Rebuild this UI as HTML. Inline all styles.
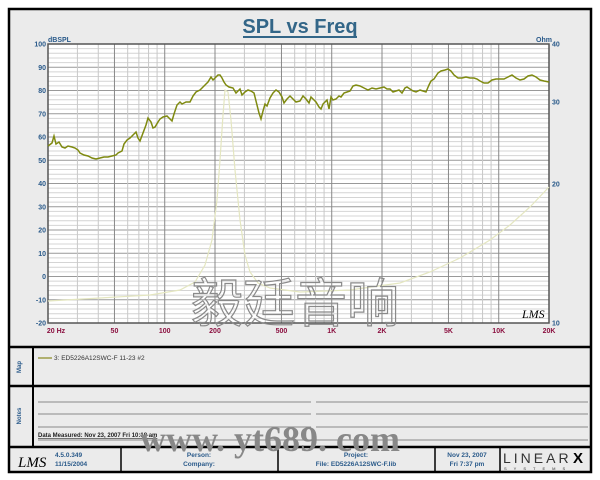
<!DOCTYPE html>
<html><head><meta charset="utf-8"><style>
body{margin:0;background:#fff;width:600px;height:480px;overflow:hidden}
svg{display:block}
text{font-family:"Liberation Sans",Arial,sans-serif}
</style></head><body>
<svg width="600" height="480" viewBox="0 0 600 480" xmlns="http://www.w3.org/2000/svg">
<rect x="0" y="0" width="600" height="480" fill="#fff"/>
<rect x="9" y="9" width="582" height="463" fill="#ebebeb" stroke="#000" stroke-width="2.5"/>
<line x1="9" y1="347" x2="591" y2="347" stroke="#000" stroke-width="2.5"/>
<line x1="9" y1="386" x2="591" y2="386" stroke="#000" stroke-width="2.5"/>
<line x1="9" y1="447" x2="591" y2="447" stroke="#000" stroke-width="2.5"/>
<line x1="33" y1="347" x2="33" y2="447" stroke="#000" stroke-width="2"/>
<line x1="121" y1="447" x2="121" y2="472" stroke="#000" stroke-width="1.5"/>
<line x1="278" y1="447" x2="278" y2="472" stroke="#000" stroke-width="1.5"/>
<line x1="435" y1="447" x2="435" y2="472" stroke="#000" stroke-width="1.5"/>
<line x1="500" y1="447" x2="500" y2="472" stroke="#000" stroke-width="1.5"/>
<text x="300" y="33" font-size="20" font-weight="bold" fill="#336688" text-anchor="middle">SPL vs Freq</text>
<line x1="243" y1="37" x2="357" y2="37" stroke="#336688" stroke-width="2"/>
<rect x="48" y="44" width="501" height="279" fill="#fff"/>
<g id="grid"></g>
<rect x="48" y="44" width="501" height="279" fill="none" stroke="#555" stroke-width="1.5"/>
<text x="48" y="42" font-size="7" font-weight="bold" fill="#2a5a8a">dBSPL</text>
<text x="552" y="42" font-size="7" font-weight="bold" fill="#2a5a8a" text-anchor="end">Ohm</text>
<g id="labels" font-size="7" font-weight="bold"></g>
<polyline fill="none" stroke="#e4e6c0" stroke-width="1.2" points="48,301 100,298 150,295 180,290 195,282 205,265 212,240 217,200 220,160 223,115 225,90 228,92 231,120 235,170 240,220 245,255 250,272 258,283 270,288 300,292 350,290 400,283 430,272 460,258 490,240 510,225 530,207 549,187"/>
<polyline fill="none" stroke="#7f8a10" stroke-width="1.5" points="48,146 52,143 54,136 56,144 59,142 62,147 65,148 68,146 72,147 75,148 78,150 80,153 84,155 88,156 92,158 96,159 100,158 104,157 108,157 112,156 116,155 118,153 122,151 124,144 127,140 130,138 134,134 136,132 138,138 140,141 143,133 146,125 148,118 151,122 153,128 155,127 158,122 160,119 163,117 167,116 170,119 172,121 174,114 177,105 180,102 182,104 186,102 190,102 193,96 196,92 200,90 205,85 208,82 211,77 213,80 215,78 218,75 220,75 222,78 224,82 226,85 229,87 233,88 236,93 238,91 240,89 242,95 245,92 248,90 251,91 254,93 257,105 259,113 261,119 263,111 265,104 267,106 270,98 273,93 276,90 279,92 282,97 284,103 287,99 290,96 292,98 296,102 300,101 303,96 306,99 309,103 311,97 313,99 316,102 319,107 321,109 323,104 325,102 327,100 329,109 331,97 333,100 336,99 339,96 341,97 344,93 347,92 350,91 353,86 356,85 360,86 364,88 368,90 372,88 376,89 380,88 384,87 387,89 390,89 393,92 396,91 399,90 402,93 405,88 407,87 410,89 413,91 416,92 420,90 423,91 426,92 429,85 431,81 434,79 436,76 438,73 441,71 445,70 448,69 451,71 454,75 458,78 462,78 466,77 470,78 474,78 477,79 480,81 484,83 488,83 492,80 496,79 500,79 504,79 508,77 512,75 516,78 520,80 524,79 528,76 532,75 536,77 540,80 544,81 549,82"/>
<text x="522" y="318" font-size="12" fill="#000" style="font-family:'Liberation Serif',serif;font-style:italic">LMS</text>
<text x="295" y="322" font-size="52" fill="none" stroke="#8a8a8a" stroke-width="1.2" text-anchor="middle" style="font-family:'Liberation Sans','Noto Sans CJK SC',sans-serif">毅廷音响</text>
<text x="21" y="367" font-size="6" font-weight="bold" fill="#2a5a8a" transform="rotate(-90 21 367)" text-anchor="middle">Map</text>
<line x1="38" y1="358" x2="52" y2="358" stroke="#b0b070" stroke-width="2"/>
<text x="54" y="360" font-size="6.5" fill="#333">3: ED5226A12SWC-F   11-23  #2</text>
<text x="21" y="416" font-size="6" font-weight="bold" fill="#2a5a8a" transform="rotate(-90 21 416)" text-anchor="middle">Notes</text>
<g stroke="#888" stroke-width="1">
<line x1="38" y1="402" x2="311" y2="402"/><line x1="316" y1="402" x2="588" y2="402"/>
<line x1="38" y1="414" x2="311" y2="414"/><line x1="316" y1="414" x2="588" y2="414"/>
<line x1="38" y1="427" x2="311" y2="427"/><line x1="316" y1="427" x2="588" y2="427"/>
<line x1="38" y1="440" x2="588" y2="440"/>
</g>
<text x="38" y="437" font-size="6" font-weight="bold" fill="#222" text-decoration="underline">Data Measured: Nov 23, 2007  Fri 10:18 am</text>
<text x="270" y="451" font-size="36" fill="#888" text-anchor="middle" style="font-family:'Liberation Serif',serif;font-weight:bold">www. yt689. com</text>
<text x="18" y="467" font-size="15" fill="#000" style="font-family:'Liberation Serif',serif;font-style:italic">LMS</text>
<text x="55" y="457" font-size="6.5" font-weight="bold" fill="#2a5a8a">4.5.0.349</text>
<text x="55" y="466" font-size="6.5" font-weight="bold" fill="#2a5a8a">11/15/2004</text>
<text x="199" y="457" font-size="6.5" font-weight="bold" fill="#2a5a8a" text-anchor="middle">Person:</text>
<text x="199" y="466" font-size="6.5" font-weight="bold" fill="#2a5a8a" text-anchor="middle">Company:</text>
<text x="356" y="457" font-size="6.5" font-weight="bold" fill="#2a5a8a" text-anchor="middle">Project:</text>
<text x="356" y="466" font-size="6.5" font-weight="bold" fill="#2a5a8a" text-anchor="middle">File: ED5226A12SWC-F.lib</text>
<text x="467" y="457" font-size="6.5" font-weight="bold" fill="#2a5a8a" text-anchor="middle">Nov 23, 2007</text>
<text x="467" y="466" font-size="6.5" font-weight="bold" fill="#2a5a8a" text-anchor="middle">Fri  7:37 pm</text>
<text x="503" y="463" font-size="14" fill="#333" letter-spacing="3">LINEAR</text>
<text x="573" y="463" font-size="15" font-weight="bold" fill="#000">X</text>
<text x="504" y="470" font-size="4" fill="#333" letter-spacing="7">SYSTEMS</text>
</svg>
<script>
var ns="http://www.w3.org/2000/svg",g=document.getElementById("grid"),L=document.getElementById("labels");
function ln(x1,y1,x2,y2,c,w){var l=document.createElementNS(ns,"line");l.setAttribute("x1",x1);l.setAttribute("y1",y1);l.setAttribute("x2",x2);l.setAttribute("y2",y2);l.setAttribute("stroke",c);l.setAttribute("stroke-width",w);g.appendChild(l);}
function tx(x,y,s,c,a){var t=document.createElementNS(ns,"text");t.setAttribute("x",x);t.setAttribute("y",y);t.setAttribute("fill",c);t.setAttribute("text-anchor",a);t.textContent=s;L.appendChild(t);}
function X(f){return 48+167*Math.log10(f/20);}
for(var d=0;d<=120;d+=2){var y=44+d*279/120;var maj=d%10==0;ln(48,y,549,y,maj?"#999":"#d4d4d4",1);}
[10,100,1000,10000].forEach(function(b){for(var m=1;m<10;m++){var f=b*m;if(f<20||f>20000)continue;var maj=(m==1||m==2||m==5);ln(X(f),44,X(f),323,maj?"#888":"#c8c8c8",1);}});
for(var v=100;v>=-20;v-=10){tx(46,44+(100-v)*279/120+2.5,String(v),"#2a5a8a","end");}
[[40,44],[30,102],[20,184],[10,323]].forEach(function(p){tx(552,p[1]+2.5,String(p[0]),"#2a5a8a","start");});
[["20  Hz",20],["50",50],["100",100],["200",200],["500",500],["1K",1000],["2K",2000],["5K",5000],["10K",10000],["20K",20000]].forEach(function(p){tx(X(p[1])+(p[1]==20?8:0),333,p[0],"#8b1040","middle");});
</script>
</body></html>
